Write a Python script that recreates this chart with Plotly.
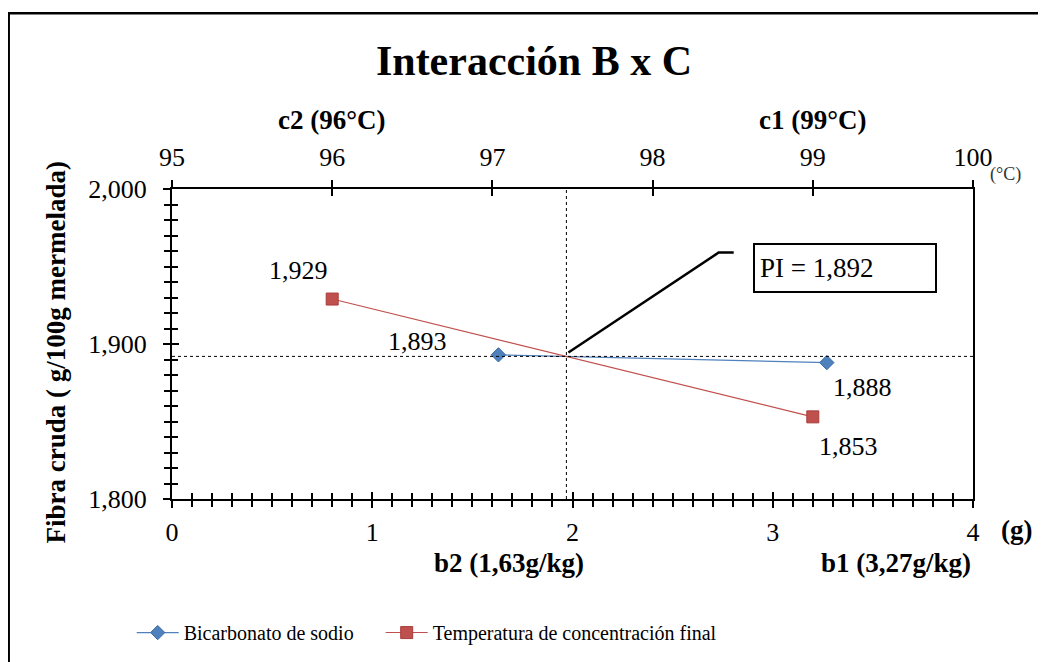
import plotly.graph_objects as go

# ---- data ----
bicarbonato_x = [1.63, 3.27]          # g (bottom axis)
bicarbonato_y = [1.893, 1.888]
temperatura_x = [96, 99]              # °C (top axis)
temperatura_y = [1.929, 1.853]
pi_value = 1.892
bottom_ticks = [0, 1, 2, 3, 4]
top_ticks = [95, 96, 97, 98, 99, 100]
y_ticks = [1.800, 1.900, 2.000]

FONT = "Liberation Serif, Times New Roman, serif"
BLUE = "#4F81BD"
RED = "#C0504D"

# page offset (default body margin of the html page)
OFF = 8
PL, PT, PW, PH = 172.3, 189.0, 801.0, 310.3   # plot area in page pixels


def px(xp):
    return (xp - PL) / PW


def py(yp):
    return (PT + PH - yp) / PH


def fmt(v):
    return f"{v:.3f}".replace(".", ",")


# intersection of the two lines, expressed in bottom-axis units
bx_range = [0, 4]
tx_range = [95, 100]


def top_to_bottom(t):
    return (t - tx_range[0]) * (bx_range[1] - bx_range[0]) / (tx_range[1] - tx_range[0])


rx = [top_to_bottom(t) for t in temperatura_x]
m1 = (bicarbonato_y[1] - bicarbonato_y[0]) / (bicarbonato_x[1] - bicarbonato_x[0])
m2 = (temperatura_y[1] - temperatura_y[0]) / (rx[1] - rx[0])
xi = (temperatura_y[0] - m2 * rx[0] - bicarbonato_y[0] + m1 * bicarbonato_x[0]) / (m1 - m2)

fig = go.Figure()
# empty helper traces so that the overlay axes (inner half of crossing ticks) get drawn
for xa, ya in [("x3", "y"), ("x4", "y"), ("x", "y2")]:
    fig.add_trace(go.Scatter(x=[], y=[], xaxis=xa, yaxis=ya, showlegend=False,
                             hoverinfo="skip", mode="markers"))
fig.add_trace(go.Scatter(
    x=bicarbonato_x, y=bicarbonato_y, mode="lines+markers",
    name="Bicarbonato de sodio", xaxis="x", yaxis="y", legend="legend",
    line=dict(color=BLUE, width=1.3),
    marker=dict(symbol="diamond", size=11, color=BLUE, line=dict(color="#3A6BA5", width=1)),
))
fig.add_trace(go.Scatter(
    x=temperatura_x, y=temperatura_y, mode="lines+markers",
    name="Temperatura de concentración final", xaxis="x2", yaxis="y", legend="legend2",
    line=dict(color=RED, width=1.1),
    marker=dict(symbol="square", size=12, color=RED, line=dict(color="#A83E3B", width=1)),
))

axline = dict(showgrid=False, zeroline=False, linecolor="black", linewidth=2,
              tickcolor="black", tickwidth=2)
tickfont = dict(family=FONT, size=26, color="black")

W, H = 1046 - OFF, 662 - OFF
ml, mt = PL - OFF, PT - OFF
fig.update_layout(
    width=W, height=H,
    margin=dict(l=ml, r=W - ml - PW, t=mt, b=H - mt - PH, autoexpand=False),
    paper_bgcolor="white", plot_bgcolor="white",
    separators=",.",
    showlegend=True,
    font=dict(family=FONT, color="black"),
    title=dict(text="<b>Interacción B x C</b>", x=(534 - OFF) / W, xanchor="center",
               y=1 - (60 - OFF) / H, yanchor="middle",
               font=dict(family=FONT, size=42, color="black")),
    xaxis=dict(range=bx_range, tickvals=bottom_ticks, ticks="outside", ticklen=7,
               showline=True, anchor="y", side="bottom", ticklabelstandoff=2,
               tickfont=tickfont,
               minor=dict(ticks="outside", ticklen=6, dtick=0.1, tickcolor="black", tickwidth=2),
               **axline),
    xaxis3=dict(range=bx_range, tickvals=bottom_ticks, ticks="inside", ticklen=7,
                showline=False, anchor="y", side="bottom", overlaying="x",
                showticklabels=False,
                minor=dict(ticks="inside", ticklen=6, dtick=0.1, tickcolor="black", tickwidth=2),
                **axline),
    xaxis2=dict(range=tx_range, tickvals=top_ticks, ticks="outside", ticklen=7,
                showline=True, anchor="y", side="top", overlaying="x", ticklabelstandoff=4,
                tickfont=tickfont, **axline),
    xaxis4=dict(range=tx_range, tickvals=top_ticks, ticks="inside", ticklen=7,
                showline=False, anchor="y", side="top", overlaying="x",
                showticklabels=False, **axline),
    yaxis=dict(range=[1.8, 2.0], tickvals=y_ticks, tickformat=",.3f", ticks="outside",
               ticklen=7, showline=True, mirror=True, ticklabelstandoff=11,
               tickfont=tickfont,
               minor=dict(ticks="outside", ticklen=6, dtick=0.01, tickcolor="black", tickwidth=2),
               **axline),
    yaxis2=dict(range=[1.8, 2.0], tickvals=y_ticks, ticks="inside", ticklen=7,
                showline=False, overlaying="y", side="left", showticklabels=False,
                minor=dict(ticks="inside", ticklen=6, dtick=0.01, tickcolor="black", tickwidth=2),
                **axline),
    legend=dict(orientation="h", x=px(132), xanchor="left", y=py(633), yanchor="middle",
                font=dict(family=FONT, size=20, color="black"),
                bgcolor="rgba(0,0,0,0)", itemwidth=42),
    legend2=dict(orientation="h", x=px(381), xanchor="left", y=py(633), yanchor="middle",
                 font=dict(family=FONT, size=20, color="black"),
                 bgcolor="rgba(0,0,0,0)", itemwidth=42),
)

shapes = [
    # outer chart border (only left/top visible)
    dict(type="rect", xref="paper", yref="paper", x0=px(9), x1=1.3, y0=-0.8, y1=py(13),
         line=dict(color="black", width=2.5), layer="below"),
    # reference lines through the intersection point
    dict(type="line", xref="paper", yref="y", x0=0, x1=1, y0=pi_value, y1=pi_value,
         line=dict(color="black", width=1, dash="dot")),
    dict(type="line", xref="x", yref="paper", x0=xi, x1=xi, y0=0, y1=1,
         line=dict(color="black", width=1, dash="dot")),
    # leader line to the PI label
    dict(type="path", xref="x", yref="y",
         path=f"M {xi + 0.01},{pi_value + 0.0025} L 2.73,1.959 L 2.805,1.959",
         line=dict(color="black", width=2.5)),
]
fig.update_layout(shapes=shapes)

ann = []
# data labels
ann.append(dict(x=temperatura_x[0], y=temperatura_y[0], xref="x2", yref="y", text=fmt(temperatura_y[0]),
                xshift=-34, yshift=29))
ann.append(dict(x=bicarbonato_x[0], y=bicarbonato_y[0], xref="x", yref="y", text=fmt(bicarbonato_y[0]),
                xshift=-81, yshift=13))
ann.append(dict(x=bicarbonato_x[1], y=bicarbonato_y[1], xref="x", yref="y", text=fmt(bicarbonato_y[1]),
                xshift=36, yshift=-25))
ann.append(dict(x=temperatura_x[1], y=temperatura_y[1], xref="x2", yref="y", text=fmt(temperatura_y[1]),
                xshift=36, yshift=-30))
for a in ann:
    a["font"] = dict(size=26)
# PI box
ann.append(dict(x=px(845.5), y=py(268), xref="paper", yref="paper",
                text="PI = " + fmt(pi_value), align="left", width=170, height=36,
                bordercolor="black", borderwidth=2, borderpad=5, bgcolor="white",
                font=dict(size=27)))
# level labels
ann.append(dict(x=96, y=py(120), xref="x2", yref="paper", text="<b>c2 (96°C)</b>", font=dict(size=27)))
ann.append(dict(x=99, y=py(120), xref="x2", yref="paper", text="<b>c1 (99°C)</b>", font=dict(size=27)))
ann.append(dict(x=px(509), y=py(563), xref="paper", yref="paper",
                text="<b>b2 (1,63g/kg)</b>", font=dict(size=27)))
ann.append(dict(x=px(896.5), y=py(563), xref="paper", yref="paper",
                text="<b>b1 (3,27g/kg)</b>", font=dict(size=27)))
# units
ann.append(dict(x=px(1006), y=py(174), xref="paper", yref="paper",
                text="(°C)", font=dict(size=18, color="#333333")))
ann.append(dict(x=px(1017), y=py(530), xref="paper", yref="paper",
                text="<b>(g)</b>", font=dict(size=27)))
# y-axis title
ann.append(dict(x=px(56), y=py(353), xref="paper", yref="paper",
                text="<b>Fibra cruda ( g/100g mermelada)</b>", textangle=-90,
                font=dict(size=27)))
for a in ann:
    a["showarrow"] = False
    a["xanchor"] = "center"
    a["yanchor"] = "middle"
    a.setdefault("font", {})
    a["font"].setdefault("family", FONT)
    a["font"].setdefault("color", "black")
fig.update_layout(annotations=ann)

fig.write_html("out.html")
